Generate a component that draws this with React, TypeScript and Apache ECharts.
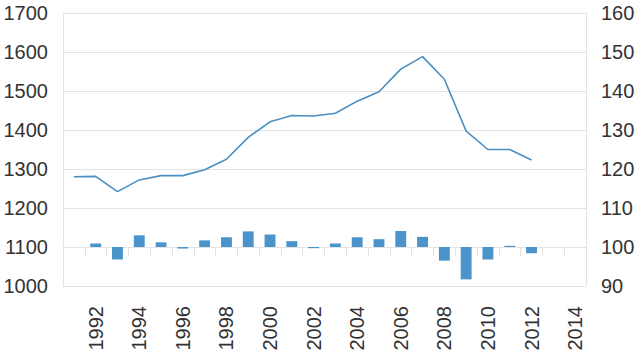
import React, { useEffect, useRef } from "react";
import * as echarts from "echarts";

const years = [
  "1991", "1992", "1993", "1994", "1995", "1996", "1997", "1998", "1999", "2000",
  "2001", "2002", "2003", "2004", "2005", "2006", "2007", "2008", "2009", "2010",
  "2011", "2012", "2013", "2014",
];

const lineValues: (number | null)[] = [
  1280, 1281, 1242, 1272, 1283, 1283, 1298, 1325, 1381, 1421,
  1437, 1436, 1443, 1474, 1498, 1556, 1588, 1530, 1397, 1350,
  1350, 1323, null, null,
];

// change relative to index 100 (right axis)
const barChanges: (number | null)[] = [
  null, 0.9, -3.2, 3.0, 1.2, -0.4, 1.7, 2.5, 4.0, 3.2,
  1.5, -0.3, 0.9, 2.5, 2.0, 4.1, 2.6, -3.5, -8.3, -3.2,
  0.3, -1.6, null, null,
];

const FONT = "Liberation Sans";
const GRID = "#e3e3e3";

export default function App() {
  const ref = useRef<HTMLDivElement>(null);
  useEffect(() => {
    document.body.style.margin = "0";
    if (!ref.current) return;
    const chart = echarts.init(ref.current, undefined, { renderer: "svg" });
    chart.setOption({
      animation: false,
      grid: { left: 63, right: 54, top: 13, bottom: 74 },
      xAxis: {
        type: "category",
        data: years,
        boundaryGap: true,
        axisLine: { show: true, lineStyle: { color: GRID, width: 1 } },
        axisTick: { show: true, interval: 0, length: 9, lineStyle: { color: GRID } },
        axisLabel: {
          interval: (i: number) => i % 2 === 1,
          rotate: 90,
          margin: 20,
          fontFamily: FONT,
          fontSize: 20,
          color: "#333",
        },
        splitLine: { show: false },
      },
      yAxis: [
        {
          type: "value",
          min: 1000,
          max: 1700,
          interval: 100,
          axisLine: { show: true, lineStyle: { color: GRID } },
          axisTick: { show: false },
          axisLabel: {
            margin: 15,
            fontFamily: FONT,
            fontSize: 20,
            color: "#333",
            formatter: (v: number) => String(v),
          },
          splitLine: { show: true, lineStyle: { color: GRID, width: 1 } },
        },
        {
          type: "value",
          min: -10,
          max: 60,
          interval: 10,
          position: "right",
          axisLine: { show: true, lineStyle: { color: GRID } },
          axisTick: { show: false },
          axisLabel: {
            margin: 15,
            fontFamily: FONT,
            fontSize: 20,
            color: "#333",
            formatter: (v: number) => String(v + 100),
          },
          splitLine: { show: false },
        },
      ],
      series: [
        {
          type: "bar",
          yAxisIndex: 1,
          data: barChanges,
          barWidth: "50%",
          itemStyle: { color: "#4a94cb" },
        },
        {
          type: "line",
          yAxisIndex: 0,
          data: lineValues,
          symbol: "none",
          lineStyle: { color: "#4a8fc3", width: 1.6 },
        },
      ],
    });
    return () => chart.dispose();
  }, []);
  return <div ref={ref} style={{ width: 640, height: 360 }} />;
}
